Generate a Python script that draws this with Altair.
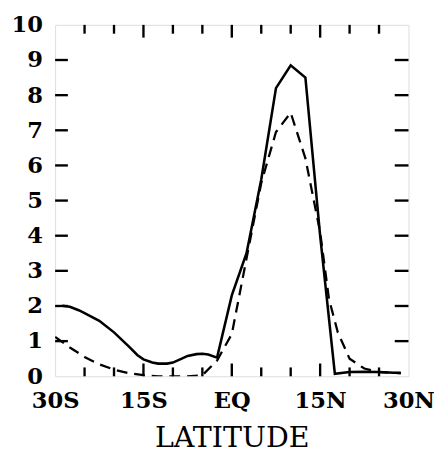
import altair as alt
import pandas as pd

# Solid curve
solid_lat = [-28.8, -27.5, -26, -25, -22.5, -20, -17.5, -16, -15, -13.5, -12.5, -11, -10, -8.5, -7.5, -6, -5, -4, -2.5,
             0, 2.5, 5, 7.5, 10, 12.5, 15, 17.5, 20, 22.5, 25, 27.5, 28.7]
solid_val = [2.01, 1.98, 1.88, 1.8, 1.58, 1.25, 0.85, 0.6, 0.48, 0.39, 0.36, 0.36, 0.39, 0.5, 0.58, 0.63, 0.64, 0.62, 0.53,
             2.3, 3.5, 5.6, 8.2, 8.85, 8.5, 4.0, 0.07, 0.12, 0.13, 0.12, 0.1, 0.1]

# Dashed curve
dash_lat = [-30, -27.5, -25, -22.5, -20, -17.5, -15, -12.5, -10, -7.5, -5, -2.5,
            0, 2.5, 5, 7.5, 10, 12.5, 15, 16.5, 18, 20, 22.5, 25, 27.5, 28.7]
dash_val = [1.12, 0.82, 0.55, 0.34, 0.19, 0.09, 0.03, 0.0, 0.0, 0.0, 0.03, 0.45,
            1.2, 3.35, 5.5, 6.95, 7.5, 6.2, 4.1, 2.2, 1.25, 0.5, 0.22, 0.12, 0.1, 0.08]

x_labels_vals = [-30, -15, 0, 15, 30]
y_label_vals = [0, 1, 2, 3, 4, 5, 6, 7, 8, 9, 10]
x_minor = [-25, -20, -10, -5, 5, 10, 20, 25]
x_major = [-15, 0, 15]
y_ticks = [1, 2, 3, 4, 5, 6, 7, 8, 9]

W, H = 360, 358
FONT = "DejaVu Serif"

df_s = pd.DataFrame({"lat": solid_lat, "val": solid_val})
df_d = pd.DataFrame({"lat": dash_lat, "val": dash_val})

xs = alt.Scale(domain=[-30, 30], nice=False, zero=False)
ys = alt.Scale(domain=[0, 10], nice=False)

label_expr = "datum.value == 0 ? 'EQ' : (datum.value < 0 ? (-datum.value) + 'S' : datum.value + 'N')"

x_axis = alt.Axis(values=x_labels_vals, labelExpr=label_expr, labelPadding=14, title="LATITUDE",
                  titlePadding=12, labelOverlap=False, labelFlush=False)
y_axis = alt.Axis(values=y_label_vals, labelPadding=13, title=None, labelOverlap=False, labelFlush=False)

solid = alt.Chart(df_s).mark_line(color="black", strokeWidth=2.6, clip=True).encode(
    x=alt.X("lat:Q", scale=xs, axis=x_axis),
    y=alt.Y("val:Q", scale=ys, axis=y_axis),
)

dashed = alt.Chart(df_d).mark_line(color="black", strokeWidth=2.3, strokeDash=[11, 7], clip=True).encode(
    x=alt.X("lat:Q", scale=xs, axis=x_axis), y=alt.Y("val:Q", scale=ys, axis=y_axis)
)

minor_df = pd.DataFrame({"t": x_minor})
major_df = pd.DataFrame({"t": x_major})
y_df = pd.DataFrame({"t": y_ticks})

def xticks(df, length):
    bot = alt.Chart(df).mark_rule(color="black", strokeWidth=2.4).encode(
        x=alt.X("t:Q", scale=xs, axis=x_axis), y=alt.value(H), y2=alt.value(H - length))
    top = alt.Chart(df).mark_rule(color="black", strokeWidth=2.4).encode(
        x=alt.X("t:Q", scale=xs, axis=x_axis), y=alt.value(0), y2=alt.value(length))
    return bot + top

yleft = alt.Chart(y_df).mark_rule(color="black", strokeWidth=2.4).encode(
    y=alt.Y("t:Q", scale=ys, axis=y_axis), x=alt.value(0), x2=alt.value(13))
yright = alt.Chart(y_df).mark_rule(color="black", strokeWidth=2.4).encode(
    y=alt.Y("t:Q", scale=ys, axis=y_axis), x=alt.value(W), x2=alt.value(W - 14))

chart = alt.layer(solid, dashed, xticks(minor_df, 9), xticks(major_df, 13), yleft, yright).properties(
    width=W, height=H,
    autosize=alt.AutoSizeParams(type="none"),
    padding={"left": 48, "top": 13, "right": 26, "bottom": 75},
).configure_view(stroke="black", strokeWidth=2.6).configure(background="white").configure_axis(
    ticks=False, domain=False, grid=False,
    labelFont=FONT, labelFontWeight="bold", labelFontSize=23, labelColor="black",
    titleFont=FONT, titleFontWeight="normal", titleFontSize=29, titleColor="black",
)

chart.save("out.html", embed_options={"renderer": "svg", "actions": False})
